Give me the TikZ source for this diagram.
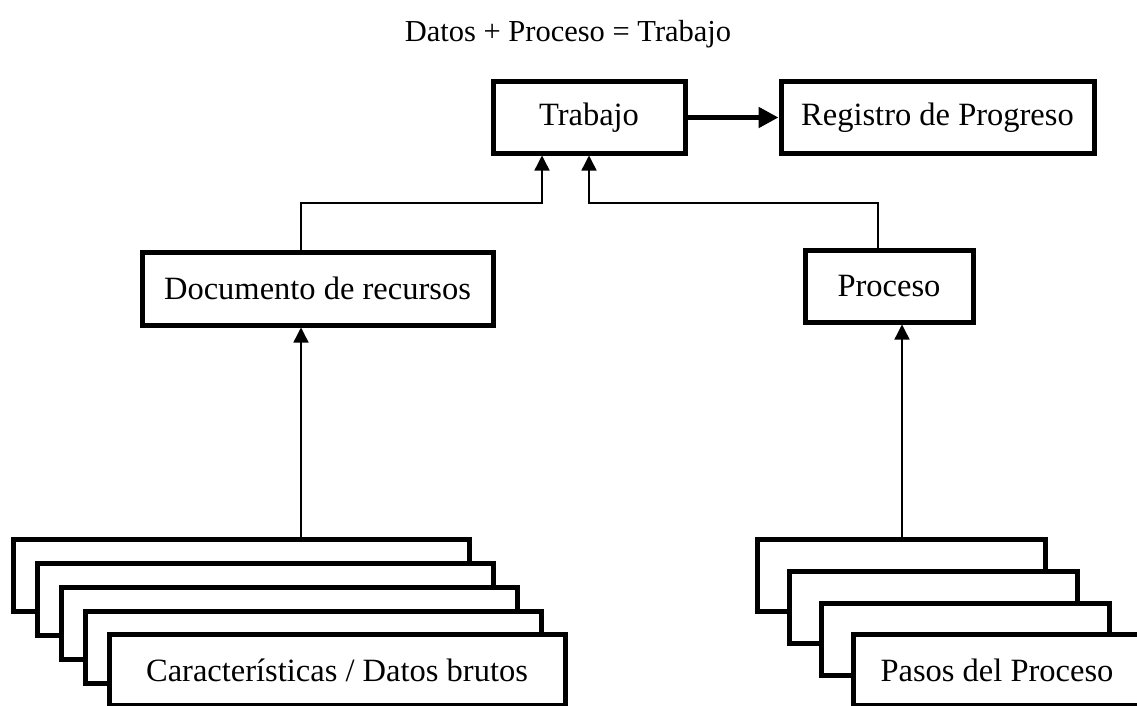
\documentclass[tikz,border=0pt]{standalone}
\usepackage{fontspec}
\setmainfont{Liberation Serif}
\usetikzlibrary{arrows.meta}
\begin{document}
\begin{tikzpicture}[x=1pt,y=-1pt,
  box/.style={draw=black,line width=5pt,fill=white,inner sep=0pt,
    font=\fontsize{32.5}{38}\selectfont},
  conn/.style={draw=black,line width=1.4pt,-{Triangle[length=15pt,width=15pt]}},
  bigconn/.style={draw=black,line width=5.5pt,-{Triangle[length=20pt,width=20pt]}},
  ttl/.style={font=\fontsize{30.5}{36}\selectfont,inner sep=0pt}]
\useasboundingbox (0,0) rectangle (1137,706);
\clip (0,0) rectangle (1137,706);
\node[ttl] (title) at (568,34) {Datos + Proceso = Trabajo};
% top row
\node[box,minimum width=192pt,minimum height=71pt] (trab) at (589,117.5) {Trabajo};
\node[box,minimum width=313pt,minimum height=71pt] (reg) at (937.5,117.5) {Registro de Progreso};
% middle row
\node[box,minimum width=351pt,minimum height=73pt] (doc) at (317.5,288.5) {Documento de recursos};
\node[box,minimum width=168pt,minimum height=72pt] (proc) at (889,286) {Proceso};
% left stack
\node[box,minimum width=456pt,minimum height=72pt] (L0) at (241,575) {};
\node[box,minimum width=456pt,minimum height=72pt] (L1) at (265,599) {};
\node[box,minimum width=456pt,minimum height=72pt] (L2) at (289,623) {};
\node[box,minimum width=456pt,minimum height=72pt] (L3) at (313,647) {};
\node[box,minimum width=456pt,minimum height=71pt] (L4) at (337,670) {Características / Datos brutos};
% right stack
\node[box,minimum width=288pt,minimum height=72pt] (R0) at (901,575) {};
\node[box,minimum width=288pt,minimum height=72pt] (R1) at (933,607) {};
\node[box,minimum width=288pt,minimum height=72pt] (R2) at (965,639) {};
\node[box,minimum width=288pt,minimum height=71pt] (R3) at (997,670) {Pasos del Proceso};
% helper coordinates
\coordinate (xl) at (301,0);
\coordinate (xr) at (902,0);
\coordinate (xt1) at (542,0);
\coordinate (xt2) at (589,0);
\coordinate (xp) at (878,0);
\coordinate (hy) at (0,203);
% connectors
\draw[bigconn] (trab.east) -- (reg.west);
\draw[conn] (L0.north -| xl) -- (doc.south -| xl);
\draw[conn] (R0.north -| xr) -- (proc.south -| xr);
\draw[conn] (doc.north -| xl) |- (hy -| xt1) -- (trab.south -| xt1);
\draw[conn] (proc.north -| xp) |- (hy -| xt2) -- (trab.south -| xt2);
\end{tikzpicture}
\end{document}
